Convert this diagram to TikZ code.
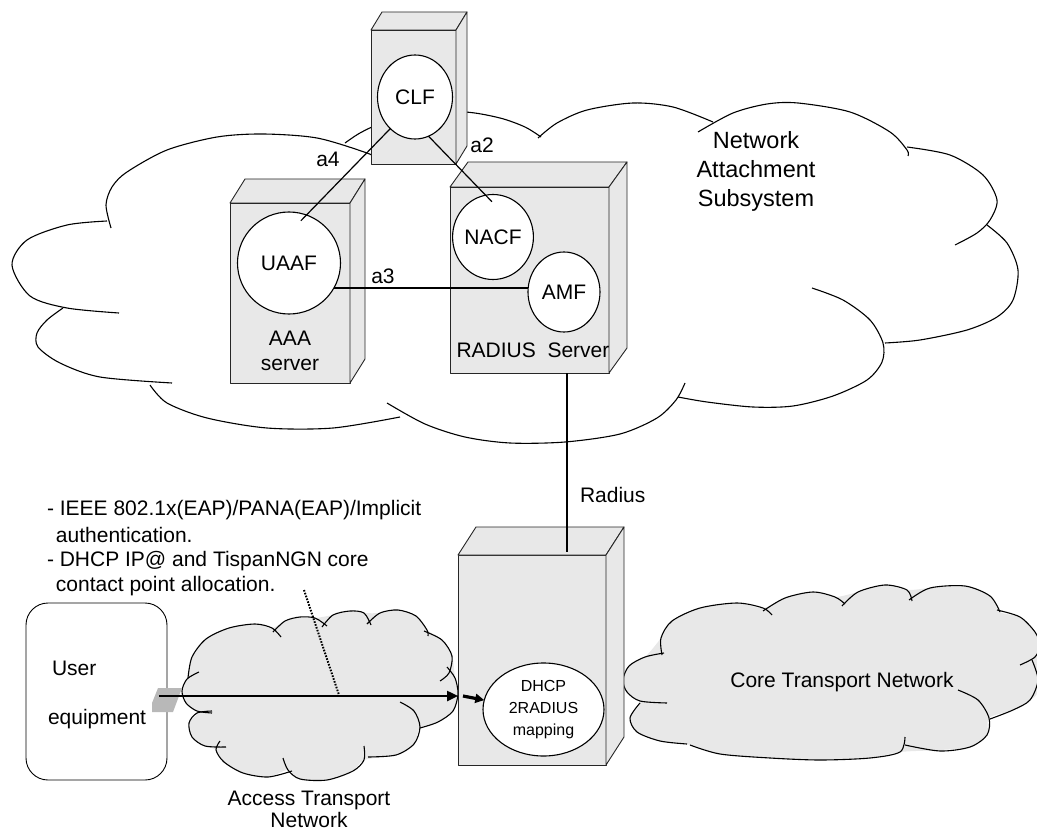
\documentclass[tikz,border=0pt]{standalone}
\usepackage{fontspec}
\setmainfont{Liberation Sans}
\usetikzlibrary{shapes.geometric,arrows.meta}
\begin{document}
\begin{tikzpicture}[x=1pt,y=-1pt,
  every node/.style={inner sep=0pt,outer sep=0pt},
  txt/.style={font=\fontsize{21}{25}\selectfont},
  boxface/.style={draw=black!85,fill=black!9,line width=0.9pt,line join=round},
  fn/.style={ellipse,draw,fill=white,line width=1.1pt,font=\fontsize{21}{25}\selectfont},
  link/.style={line width=1.2pt},
  lobe/.style={line width=1.1pt},
  cloudfill/.style={fill=black!9},
  flow/.style={line width=2.4pt,-{Triangle[length=11pt,width=10pt]}},
  dots/.style={line width=2pt,dash pattern=on 1.6pt off 1.4pt}]
\useasboundingbox (0,0) rectangle (1037,832);

% ---------- Network Attachment Subsystem cloud ----------
\draw[lobe] plot[smooth] coordinates {(119,313) (67,308) (30,296) (12,265) (27,240) (67,225) (107,221)};
\draw[lobe] plot[smooth] coordinates {(111,228) (106,205) (112,187) (127,172) (167,150) (217,137) (263,134) (317,138) (367,153) (375,158)};
\draw[lobe] plot[smooth] coordinates {(345,143) (360,133) (380,124) (420,114) (465,112) (500,118) (525,127) (541,137)};
\draw[lobe] plot[smooth] coordinates {(538,138) (557,123) (587,110) (633,103) (673,107) (713,122)};
\draw[lobe] plot[smooth] coordinates {(698,132) (733,113) (767,104) (798,103) (850,112) (890,132) (907,150) (908,156)};
\draw[lobe] plot[smooth] coordinates {(907,147) (950,155) (983,175) (997,200) (990,220) (977,233) (955,245)};
\draw[lobe] plot[smooth] coordinates {(987,225) (1007,243) (1018,270) (1013,300) (997,317) (967,330) (920,340) (885,343)};
\draw[lobe] plot[smooth] coordinates {(812,288) (843,300) (870,320) (883,343) (882,362) (867,380) (833,396) (793,406) (753,407) (707,402) (678,397)};
\draw[lobe] plot[smooth] coordinates {(685,383) (676,400) (657,418) (620,434) (565,442) (510,443) (465,437) (425,424) (387,403)};
\draw[lobe] plot[smooth] coordinates {(400,417) (333,428) (267,428) (207,418) (167,403) (150,385)};
\draw[lobe] plot[smooth] coordinates {(172,383) (100,377) (60,363) (38,347) (37,333) (47,320) (63,308)};
\node[align=center,font=\fontsize{23.5}{29}\selectfont] (nas) at (756,171) {Network\\Attachment\\Subsystem};

% ---------- CLF box ----------
\node[boxface,minimum width=85pt,minimum height=134pt] (clfbox) at (413.5,97) {};
\draw[boxface] (clfbox.north west) -- ++(11,-18) -- ++(85,0) -- (clfbox.north east) -- cycle;
\draw[boxface] (clfbox.north east) -- ++(11,-18) -- ++(0,134) -- (clfbox.south east) -- cycle;

% ---------- AAA server box ----------
\node[boxface,minimum width=120pt,minimum height=180pt] (aaabox) at (290,293) {};
\draw[boxface] (aaabox.north west) -- ++(15,-24) -- ++(120,0) -- (aaabox.north east) -- cycle;
\draw[boxface] (aaabox.north east) -- ++(15,-24) -- ++(0,180) -- (aaabox.south east) -- cycle;

% ---------- RADIUS server box ----------
\node[boxface,minimum width=159pt,minimum height=186pt] (radbox) at (529.5,280) {};
\draw[boxface] (radbox.north west) -- ++(18,-25) -- ++(159,0) -- (radbox.north east) -- cycle;
\draw[boxface] (radbox.north east) -- ++(18,-25) -- ++(0,186) -- (radbox.south east) -- cycle;

% ---------- functions ----------
\node[fn,minimum width=75pt,minimum height=84pt] (clf) at (415,97) {CLF};
\node[fn,minimum width=103pt,minimum height=102pt] (uaaf) at (289,263) {UAAF};
\node[fn,minimum width=72pt,minimum height=85pt] (nacf) at (493,237) {NACF};
\node[fn,minimum width=72pt,minimum height=80pt] (amf) at (564,292) {AMF};

\draw[link,shorten >=-8pt] (clf.232) -- (uaaf.70);
\draw[link,shorten >=-9pt] (clf.-71) -- (nacf.100);
\draw[link] (uaaf.-29) -- (uaaf.-29 -| amf.west);

\node[txt] (la4) at (328,159) {a4};
\node[txt] (la2) at (482,145) {a2};
\node[txt] (la3) at (383,276) {a3};
\node[align=center,font=\fontsize{21}{25}\selectfont] (aaalbl) at (290,351) {AAA\\server};
\node[txt] (radlbl) at (533,350) {RADIUS\ \ Server};

% ---------- Access transport network cloud ----------
\fill[cloudfill] plot[smooth cycle] coordinates {(182,691) (187,679) (192,657) (206,639) (229,628) (255,624) (272,628) (285,621) (300,617) (315,618) (333,615) (350,611) (364,613) (380,613) (398,610) (416,616) (427,630) (442,640) (452,656) (455,678) (458,694) (453,711) (438,722) (420,728) (414,744) (396,755) (364,760) (353,771) (327,780) (300,779) (288,770) (268,777) (243,773) (224,762) (216,750) (205,746) (192,737) (189,723) (197,713) (186,703)};
\draw[lobe] plot[smooth] coordinates {(212,713) (197,711) (186,703) (182,691) (187,679) (199,672)};
\draw[lobe] plot[smooth] coordinates {(188,678) (192,657) (206,639) (229,628) (255,624) (272,628) (281,637)};
\draw[lobe] plot[smooth] coordinates {(273,632) (285,621) (300,617) (315,618) (327,626)};
\draw[lobe] plot[smooth] coordinates {(322,627) (333,615) (350,611) (364,613) (371,625)};
\draw[lobe] plot[smooth] coordinates {(367,624) (380,613) (398,610) (416,616) (427,630) (428,636)};
\draw[lobe] plot[smooth] coordinates {(424,631) (442,640) (452,656) (449,673) (440,681)};
\draw[lobe] plot[smooth] coordinates {(447,667) (455,678) (458,694) (453,711) (438,722) (420,728)};
\draw[lobe] plot[smooth] coordinates {(400,702) (414,711) (420,727) (414,744) (396,755) (368,757)};
\draw[lobe] plot[smooth] coordinates {(364,746) (364,760) (353,771) (327,780) (300,779) (288,770) (283,758)};
\draw[lobe] plot[smooth] coordinates {(292,771) (268,777) (243,773) (224,762) (216,750) (220,741)};
\draw[lobe] plot[smooth] coordinates {(226,747) (205,746) (192,737) (189,723) (197,713) (212,711)};
\node[txt] (atn1) at (309,800) {Access Transport};
\node[txt] (atn2) at (309,820) {Network};

% ---------- Core transport network cloud ----------
\fill[cloudfill] plot[smooth cycle] coordinates {(623,680) (629,666) (645,657) (661,638) (672,621) (700,608) (737,603) (763,608) (785,598) (813,592) (835,597) (858,592) (885,585) (907,590) (930,588) (965,586) (990,596) (1000,612) (1020,617) (1035,632) (1040,645) (1038,690) (1030,700) (1013,710) (989,718) (987,735) (970,747) (940,750) (900,752) (870,758) (820,760) (770,758) (720,754) (690,745) (660,741) (637,732) (630,718) (640,703) (627,692)};
\draw[lobe] plot[smooth] coordinates {(667,703) (640,701) (627,692) (623,680) (629,666) (645,657) (664,653)};
\draw[lobe] plot[smooth] coordinates {(662,655) (661,638) (672,621) (700,608) (737,603) (763,608) (772,615)};
\draw[lobe] plot[smooth] coordinates {(763,611) (785,598) (813,592) (835,597) (845,604)};
\draw[lobe] plot[smooth] coordinates {(842,606) (858,592) (885,585) (907,590) (912,601)};
\draw[lobe] plot[smooth] coordinates {(909,600) (930,588) (965,586) (990,596) (1000,612)};
\draw[lobe] plot[smooth] coordinates {(997,610) (1020,617) (1035,632) (1040,645) (1035,657) (1020,665)};
\draw[lobe] plot[smooth] coordinates {(1032,660) (1038,680) (1030,700) (1013,710) (990,719)};
\draw[lobe] plot[smooth] coordinates {(958,690) (978,700) (989,718) (987,735) (970,747) (940,751) (905,745)};
\draw[lobe] plot[smooth] coordinates {(905,737) (900,752) (870,758) (820,760) (770,758) (720,754) (690,745)};
\draw[lobe] plot[smooth] coordinates {(640,703) (630,718) (637,732) (660,741) (687,744)};
\node[txt] (ctn) at (842,682) {Core Transport Network};

% ---------- DHCP box ----------
\node[boxface,minimum width=148pt,minimum height=210pt] (dbox) at (532,660) {};
\draw[boxface] (dbox.north west) -- ++(18,-28) -- ++(148,0) -- (dbox.north east) -- cycle;
\draw[boxface] (dbox.north east) -- ++(18,-28) -- ++(0,210) -- (dbox.south east) -- cycle;
\node[fn,align=center,minimum width=121pt,minimum height=93pt,font=\fontsize{16}{22}\selectfont] (dhcp) at (543.5,709.5) {DHCP\\2RADIUS\\mapping};

\coordinate (dhcpin) at (567,552);
\draw[link] (radbox.south -| dhcpin) -- (dhcpin);
\node[txt,anchor=west] (radiuslbl) at (580,495) {Radius};

% ---------- User equipment ----------
\node[draw,line width=0.9pt,rounded corners=22pt,minimum width=141pt,minimum height=177pt] (ue) at (96.5,691.5) {};
\node[txt,anchor=west] (uel1) at (52,668) {User};
\node[txt,anchor=west] (uel2) at (48,719) {equipment};
\fill[black!28] (152,712) -- (152,703) -- (158,688) -- (182,688) -- (173,712) -- cycle;

\coordinate (port) at (159,696);
\draw[flow] (port) -- (port -| dbox.west);
\coordinate (hop) at (463,696);
\draw[line width=3.2pt,-{Triangle[length=9pt,width=9pt]}] (hop) -- (dhcp.171);
\coordinate (dtop) at (304,590);
\coordinate (dbot) at (339,695);
\draw[dots] (dtop) -- (dbot);

% ---------- Left texts ----------
\node[txt,anchor=west] (t1) at (47,510) {- IEEE 802.1x(EAP)/PANA(EAP)/Implicit};
\node[txt,anchor=west] (t2) at (56,535) {authentication.};
\node[txt,anchor=west] (t3) at (47,561) {- DHCP IP@ and TispanNGN core};
\node[txt,anchor=west] (t4) at (56,586) {contact point allocation.};
\end{tikzpicture}
\end{document}
